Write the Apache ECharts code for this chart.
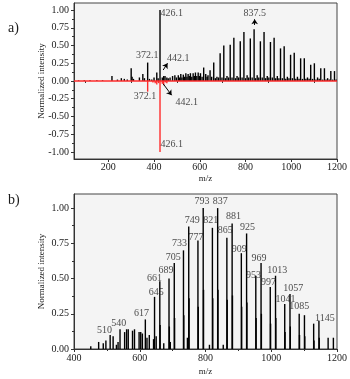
<!DOCTYPE html>
<html>
<head>
<meta charset="utf-8">
<script src="https://cdn.jsdelivr.net/npm/echarts@6/dist/echarts.min.js"></script>
<style>
html, body { margin: 0; padding: 0; background: #fff; }
#main { width: 350px; height: 379px; }
</style>
</head>
<body>
<div id="main"></div>
<script>
// a) measured spectrum (black, up) and mirrored reference (red, down)
var topPeaks = [
    [70, 0.01], [95, 0.01], [120, 0.01], [150, 0.01], [175, 0.01], [216, 0.07], [240, 0.02], [257, 0.04],
    [270, 0.03], [283, 0.02], [300, 0.18], [304, 0.06], [310, 0.03], [336, 0.05], [351, 0.10], [358, 0.04],
    [372.1, 0.26], [380, 0.03], [390, 0.02], [400, 0.05], [412, 0.12], [418, 0.04], [426.1, 1.00], [436, 0.05],
    [442.1, 0.07], [448, 0.07], [456, 0.05], [462, 0.04], [470, 0.05], [481, 0.07], [491, 0.08], [498, 0.05],
    [506, 0.08], [511, 0.05], [517, 0.10], [522, 0.05], [528, 0.09], [534, 0.06], [539, 0.11], [544, 0.06],
    [549, 0.10], [554, 0.07], [559, 0.11], [565, 0.06], [571, 0.11], [576, 0.07], [581, 0.12], [587, 0.07],
    [593, 0.12], [598, 0.07], [603, 0.11], [610, 0.06], [617, 0.19], [626, 0.10], [632, 0.06], [636, 0.08],
    [645, 0.15], [652, 0.06], [661, 0.26], [668, 0.04], [675, 0.06], [682, 0.05], [689, 0.39], [697, 0.05],
    [705, 0.50], [712, 0.04], [719, 0.07], [726, 0.05], [733, 0.51], [741, 0.05], [749, 0.61], [756, 0.04],
    [763, 0.07], [770, 0.05], [777, 0.56], [785, 0.05], [793, 0.69], [800, 0.04], [807, 0.08], [814, 0.05],
    [821, 0.60], [829, 0.05], [837.5, 0.73], [844, 0.04], [851, 0.08], [858, 0.05], [865, 0.56], [873, 0.05],
    [881, 0.69], [888, 0.04], [895, 0.07], [902, 0.05], [909, 0.55], [917, 0.05], [925, 0.61], [932, 0.04],
    [939, 0.07], [946, 0.04], [953, 0.46], [961, 0.04], [969, 0.49], [976, 0.03], [983, 0.06], [990, 0.04],
    [997, 0.37], [1005, 0.04], [1013, 0.40], [1020, 0.03], [1027, 0.06], [1034, 0.03], [1041, 0.32], [1049, 0.03],
    [1057, 0.32], [1064, 0.03], [1071, 0.05], [1078, 0.03], [1085, 0.23], [1093, 0.03], [1101, 0.25], [1108, 0.02],
    [1115, 0.05], [1122, 0.03], [1129, 0.18], [1137, 0.02], [1145, 0.18], [1152, 0.02], [1159, 0.04], [1166, 0.02],
    [1173, 0.14], [1181, 0.02], [1189, 0.14], [1196, 0.02]
];
var topMirror = [
    [372.1, -0.15], [395, -0.02], [405, -0.03], [412, -0.05], [420, -0.03], [426.1, -1.00],
    [436, -0.04], [442.1, -0.06], [450, -0.02], [456, -0.03]
];
var topLabels = [
    [477, 0.96, '426.1'], [370, 0.365, '372.1'], [506, 0.32, '442.1'], [840, 0.96, '837.5'],
    [361, -0.22, '372.1'], [543, -0.30, '442.1'], [477, -0.90, '426.1']
];
var topArrows = [
    [[440, 0.155], [459, 0.25]],
    [[440, -0.04], [477, -0.20]],
    [[840, 0.79], [840, 0.87]]
];
var topXTicks = [200, 400, 600, 800, 1000, 1200];
var topXMinor = [100, 300, 500, 700, 900, 1100];
var topYTicks = [-1, -0.75, -0.5, -0.25, 0, 0.25, 0.5, 0.75, 1];
var topYMinor = [-0.875, -0.625, -0.375, -0.125, 0.125, 0.375, 0.625, 0.875];

// b) spectrum
var bottomPeaks = [
    [451, 0.02], [475, 0.05], [489, 0.04], [497, 0.06], [510, 0.10], [519, 0.09], [529, 0.03], [534, 0.05],
    [540, 0.14], [554, 0.12], [560, 0.14], [565, 0.14], [578, 0.13], [584, 0.14], [598, 0.12], [603, 0.12],
    [608, 0.11], [617, 0.21], [622, 0.08], [629, 0.10], [642, 0.07], [645, 0.37], [650, 0.09], [661, 0.48],
    [662, 0.17], [673, 0.04], [689, 0.50], [690, 0.16], [693, 0.05], [705, 0.61], [706, 0.22], [733, 0.70],
    [734, 0.24], [745, 0.08], [749, 0.87], [750, 0.36], [777, 0.77], [778, 0.30], [793, 1.00], [794, 0.42],
    [812, 0.03], [821, 0.86], [822, 0.36], [837, 1.00], [838, 0.42], [854, 0.03], [865, 0.79], [866, 0.35],
    [881, 0.89], [882, 0.38], [909, 0.68], [910, 0.30], [925, 0.82], [926, 0.33], [953, 0.52], [954, 0.22],
    [969, 0.61], [970, 0.25], [997, 0.44], [998, 0.18], [1013, 0.52], [1014, 0.22], [1041, 0.32], [1042, 0.12],
    [1057, 0.39], [1058, 0.16], [1085, 0.25], [1086, 0.10], [1101, 0.24], [1102, 0.09], [1129, 0.18],
    [1130, 0.06], [1145, 0.20], [1146, 0.08], [1173, 0.08], [1189, 0.08]
];
var bottomLabels = [
    [493, 0.13, '510'], [536, 0.18, '540'], [605, 0.25, '617'], [650, 0.40, '645'], [645, 0.50, '661'],
    [680, 0.56, '689'], [702, 0.65, '705'], [721, 0.75, '733'], [760, 0.91, '749'], [771, 0.79, '777'],
    [789, 1.05, '793'], [816, 0.91, '821'], [845, 1.05, '837'], [860, 0.84, '865'], [885, 0.94, '881'],
    [903, 0.71, '909'], [928, 0.86, '925'], [946, 0.52, '953'], [963, 0.64, '969'], [992, 0.47, '997'],
    [1018, 0.56, '1013'], [1043, 0.35, '1041'], [1067, 0.43, '1057'], [1085, 0.30, '1085'], [1163, 0.22, '1145']
];
var bottomXTicks = [400, 600, 800, 1000, 1200];
var bottomXMinor = [500, 700, 900, 1100];
var bottomYTicks = [0, 0.25, 0.5, 0.75, 1];
var bottomYMinor = [0.125, 0.375, 0.625, 0.875];

var serif = "'Liberation Serif', 'Times New Roman', serif";
var ink = '#1a1a1a';

function majorX(grid, min, max, ticks, gap, margin) {
    return {
        type: 'value', gridIndex: grid, min: min, max: max, position: 'bottom',
        name: 'm/z', nameLocation: 'middle', nameGap: gap,
        nameTextStyle: { fontFamily: serif, fontSize: 9, color: ink },
        axisLine: { show: true, onZero: false, lineStyle: { color: '#333', width: 1 } },
        axisTick: { show: true, customValues: ticks, length: 3, lineStyle: { color: '#333' } },
        axisLabel: {
            customValues: ticks, margin: margin, fontFamily: serif, fontSize: 10, color: ink,
            formatter: function (v) { return String(v); }
        },
        splitLine: { show: false }
    };
}
function minorX(grid, min, max, ticks) {
    return {
        type: 'value', gridIndex: grid, min: min, max: max, position: 'bottom',
        axisLine: { show: false },
        axisTick: { show: true, customValues: ticks, length: 2, lineStyle: { color: '#333' } },
        axisLabel: { show: false },
        splitLine: { show: false }
    };
}
function majorY(grid, min, max, ticks) {
    return {
        type: 'value', gridIndex: grid, min: min, max: max, position: 'left',
        name: 'Normalized intensity', nameLocation: 'middle', nameGap: 28, nameMoveOverlap: false,
        nameTextStyle: { fontFamily: serif, fontSize: 9, color: ink },
        axisLine: { show: true, onZero: false, lineStyle: { color: '#333', width: 1 } },
        axisTick: { show: true, customValues: ticks, length: 3, lineStyle: { color: '#333' } },
        axisLabel: {
            customValues: ticks, margin: 5, fontFamily: serif, fontSize: 10, color: ink,
            formatter: function (v) { return v.toFixed(2); }
        },
        splitLine: { show: false }
    };
}
function minorY(grid, min, max, ticks) {
    return {
        type: 'value', gridIndex: grid, min: min, max: max, position: 'left',
        axisLine: { show: false },
        axisTick: { show: true, customValues: ticks, length: 2, lineStyle: { color: '#333' } },
        axisLabel: { show: false },
        splitLine: { show: false }
    };
}

var labelStyle = {
    show: true, position: 'inside', fontFamily: serif, fontSize: 10, color: ink,
    formatter: function (p) { return p.value[2]; }
};

var chart = echarts.init(document.getElementById('main'), null, { renderer: 'canvas' });
chart.setOption({
    animation: false,
    backgroundColor: '#fff',
    title: [
        { text: 'a)', left: 3, top: 16, textStyle: { fontFamily: serif, fontSize: 14, fontWeight: 'normal', color: ink } },
        { text: 'b)', left: 3, top: 188, textStyle: { fontFamily: serif, fontSize: 14, fontWeight: 'normal', color: ink } }
    ],
    grid: [
        { left: 74, right: 12, top: 3, height: 156, show: true, backgroundColor: '#f4f4f4', borderColor: '#444', borderWidth: 1 },
        { left: 74, right: 12, top: 194, height: 155, show: true, backgroundColor: '#f4f4f4', borderColor: '#444', borderWidth: 1 }
    ],
    xAxis: [
        majorX(0, 50, 1200, topXTicks, 15, 3),
        minorX(0, 50, 1200, topXMinor),
        majorX(1, 400, 1200, bottomXTicks, 18, 4),
        minorX(1, 400, 1200, bottomXMinor)
    ],
    yAxis: [
        majorY(0, -1.1, 1.1, topYTicks),
        minorY(0, -1.1, 1.1, topYMinor),
        majorY(1, 0, 1.1, bottomYTicks),
        minorY(1, 0, 1.1, bottomYMinor)
    ],
    series: [
        {
            type: 'bar', xAxisIndex: 0, yAxisIndex: 0, data: topMirror,
            barWidth: 1.4, barGap: '-100%', itemStyle: { color: '#ff2b2b' },
            markLine: {
                silent: true, symbol: 'none', label: { show: false },
                lineStyle: { color: '#ff2b2b', width: 1.5, type: 'solid' },
                data: [{ yAxis: 0 }]
            }
        },
        {
            type: 'bar', xAxisIndex: 0, yAxisIndex: 0, data: topPeaks,
            barWidth: 1.4, barGap: '-100%', itemStyle: { color: '#000' }
        },
        {
            type: 'scatter', xAxisIndex: 0, yAxisIndex: 0, data: topLabels,
            symbolSize: 1, itemStyle: { color: 'rgba(0,0,0,0)' }, label: labelStyle,
            markLine: {
                silent: true, symbol: ['none', 'arrow'], symbolSize: 5, label: { show: false },
                lineStyle: { color: '#000', width: 1, type: 'solid' },
                data: topArrows.map(function (a) { return [{ coord: a[0] }, { coord: a[1] }]; })
            }
        },
        {
            type: 'bar', xAxisIndex: 2, yAxisIndex: 2, data: bottomPeaks,
            barWidth: 1.4, barGap: '-100%', itemStyle: { color: '#000' }
        },
        {
            type: 'scatter', xAxisIndex: 2, yAxisIndex: 2, data: bottomLabels,
            symbolSize: 1, itemStyle: { color: 'rgba(0,0,0,0)' }, label: labelStyle
        }
    ]
});
</script>
</body>
</html>
